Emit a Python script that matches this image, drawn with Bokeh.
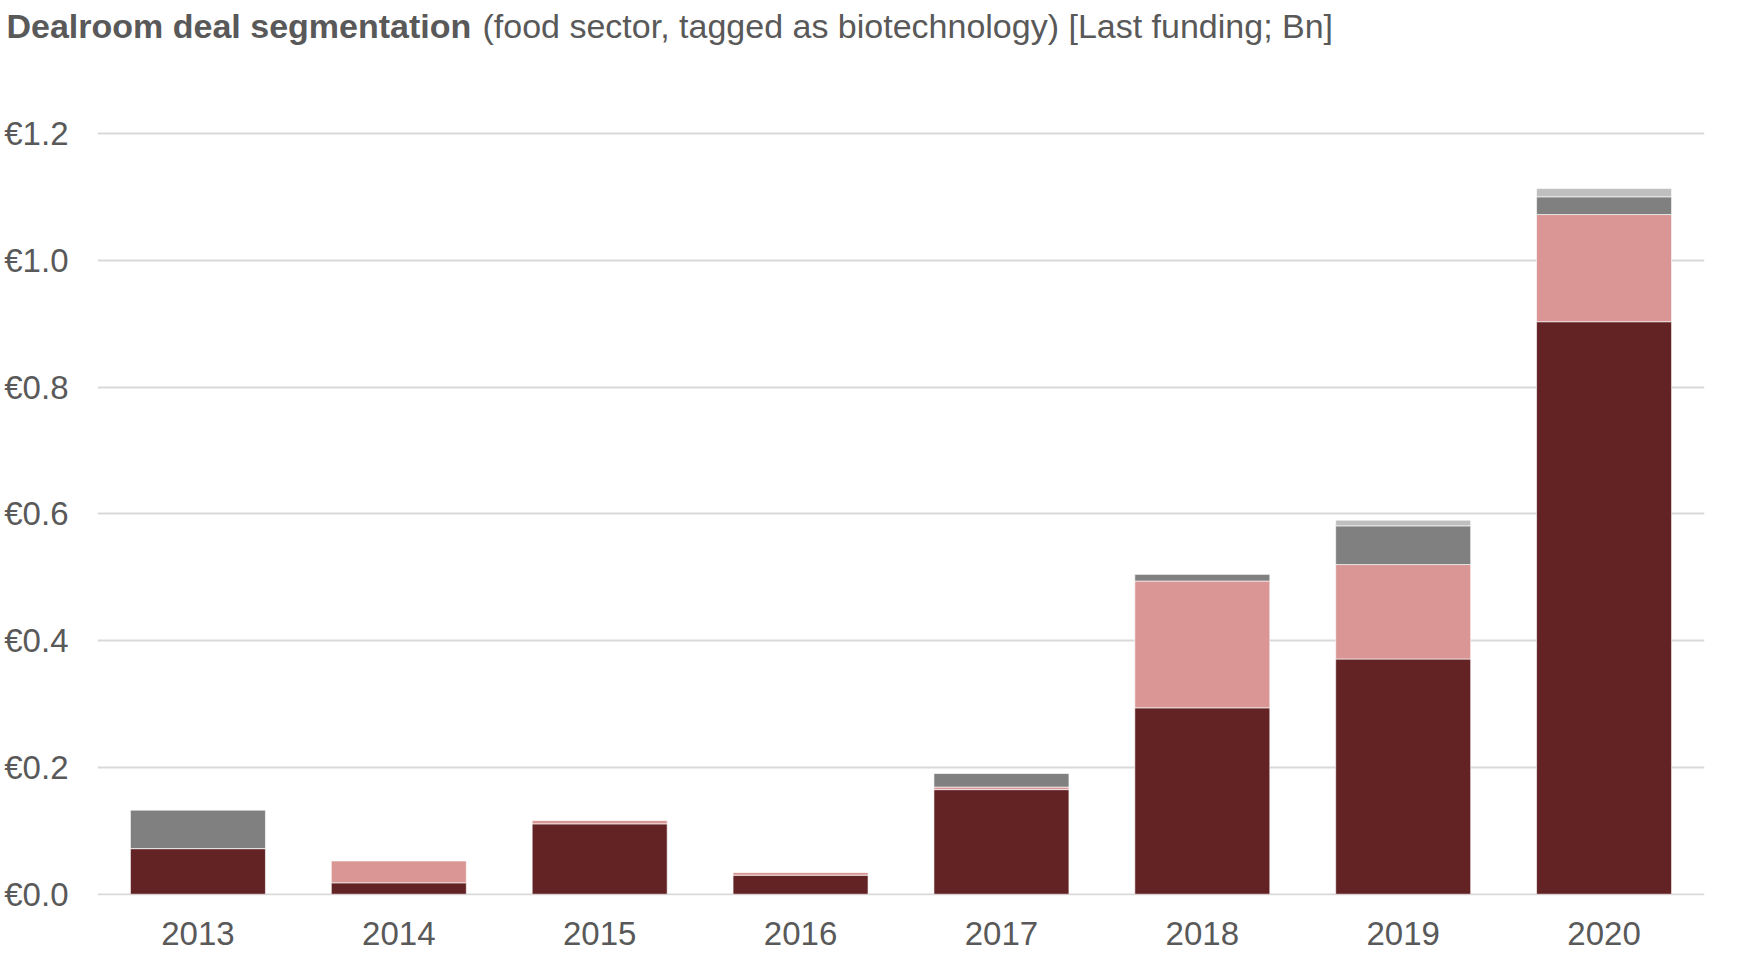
from bokeh.plotting import figure
from bokeh.models import (ColumnDataSource, FactorRange, Range1d, FixedTicker,
                          PrintfTickFormatter, Label)
from bokeh.embed import file_html
from bokeh.resources import INLINE

# ---- data (EUR Bn, last funding) ----
years = ["2013", "2014", "2015", "2016", "2017", "2018", "2019", "2020"]
seg_dark = [0.072, 0.018, 0.111, 0.030, 0.165, 0.294, 0.371, 0.903]
seg_pink = [0.000, 0.035, 0.006, 0.005, 0.004, 0.200, 0.149, 0.169]
seg_gray = [0.061, 0.000, 0.000, 0.000, 0.022, 0.011, 0.061, 0.028]
seg_light = [0.000, 0.000, 0.000, 0.000, 0.000, 0.000, 0.009, 0.013]
y_ticks = [0.0, 0.2, 0.4, 0.6, 0.8, 1.0, 1.2]

title_bold = "Dealroom deal segmentation"
title_rest = "(food sector, tagged as biotechnology) [Last funding; Bn]"

keys = ["seg_dark", "seg_pink", "seg_gray", "seg_light"]
colors = ["#632325", "#DA9694", "#808080", "#BFBFBF"]
source = ColumnDataSource(data=dict(years=years, seg_dark=seg_dark, seg_pink=seg_pink,
                                    seg_gray=seg_gray, seg_light=seg_light))

TXT = "#595959"
FONT = "Liberation Sans"

p = figure(x_range=FactorRange(*years, range_padding=0),
           y_range=Range1d(-0.002, 1.203),
           width=1725, height=956, output_backend="svg", toolbar_location=None,
           min_border_left=97, min_border_right=21, min_border_top=131, min_border_bottom=61)
p.outline_line_color = None
p.background_fill_color = "white"

p.vbar_stack(keys, x="years", width=0.672, color=colors, source=source,
             line_color="white", line_alpha=0.6, line_width=1)

p.xgrid.grid_line_color = None
p.ygrid.grid_line_color = "#D9D9D9"
p.ygrid.grid_line_width = 2
p.yaxis.ticker = FixedTicker(ticks=y_ticks)
p.yaxis.formatter = PrintfTickFormatter(format="€%.1f")

for ax in (p.xaxis[0], p.yaxis[0]):
    ax.axis_line_color = None
    ax.major_tick_line_color = None
    ax.minor_tick_line_color = None
    ax.major_tick_out = 0
    ax.major_tick_in = 0
    ax.major_label_text_font = FONT
    ax.major_label_text_font_size = "33px"
    ax.major_label_text_color = TXT
p.yaxis.major_label_standoff = 29
p.xaxis.major_label_standoff = 26

p.add_layout(Label(x=6, y=25, x_units="canvas", y_units="canvas", text=title_bold,
                   text_font=FONT, text_font_size="34px", text_font_style="bold",
                   text_color=TXT, text_baseline="middle"), "above")
p.add_layout(Label(x=482, y=25, x_units="canvas", y_units="canvas", text=title_rest,
                   text_font=FONT, text_font_size="34px", text_color=TXT,
                   text_baseline="middle"), "above")

open("out.html", "w").write(file_html(p, INLINE))
